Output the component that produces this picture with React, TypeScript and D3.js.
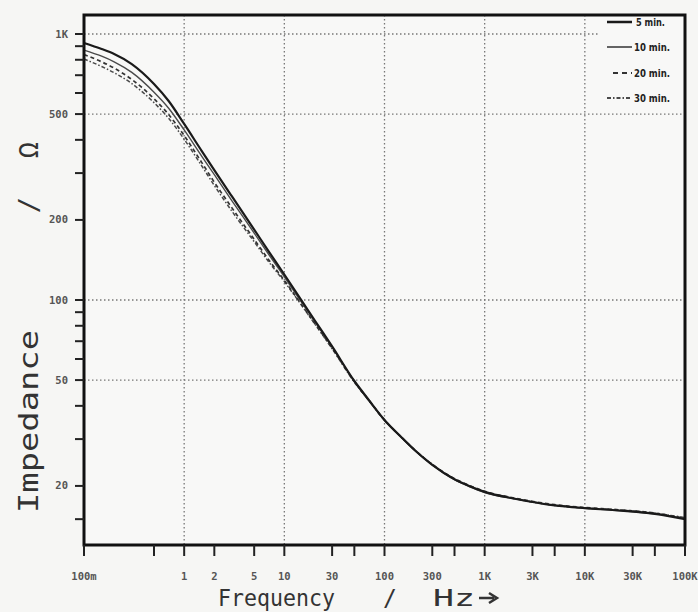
import React from "react";
import * as d3 from "d3";

const freqs = [0.1, 0.15, 0.2, 0.3, 0.5, 0.7, 1, 1.5, 2, 3, 5, 7, 10, 15, 20, 30, 50, 70, 100, 150, 200, 300, 500, 700, 1000, 2000, 5000, 10000, 20000, 50000, 100000];
const z5 = [925, 878, 841, 771, 649, 560, 459, 363, 308, 245, 184, 152, 124.7, 99.1, 84.1, 66.9, 49.6, 42, 35.4, 30.3, 27.3, 24, 21.2, 20.0, 19.0, 17.9, 16.9, 16.5, 16.2, 15.7, 15.0];
const z10 = [870, 825, 786, 717, 604, 526, 436, 347, 296, 236, 178.5, 148, 122.2, 97.6, 83.3, 66.6, 49.5, 41.9, 35.3, 30.2, 27.2, 24.0, 21.1, 19.9, 18.9, 17.9, 16.9, 16.5, 16.2, 15.7, 15.1];
const z20 = [837, 786, 744, 675, 571, 498, 415, 328.5, 277, 222, 169, 141.4, 118.5, 95.6, 82, 65.9, 49.4, 41.9, 35.4, 30.3, 27.3, 24.1, 21.3, 20.1, 19.1, 18.0, 17.0, 16.6, 16.3, 15.8, 15.1];
const z30 = [805, 755, 715, 651, 552, 482, 402, 319, 269.5, 215.6, 165.6, 139, 117.2, 95.1, 81.6, 65.6, 49.1, 41.8, 35.3, 30.3, 27.3, 24.1, 21.2, 20.0, 19.0, 17.9, 16.9, 16.5, 16.3, 15.8, 15.2];

const seriesNames = ["5 min.", "10 min.", "20 min.", "30 min."];

const xTickValues = [0.1, 0.5, 1, 2, 5, 10, 30, 50, 100, 300, 500, 1000, 3000, 5000, 10000, 30000, 50000, 100000];
const xLabelValues = [0.1, 1, 2, 5, 10, 30, 100, 300, 1000, 3000, 10000, 30000, 100000];
const xLabelTexts = ["100m", "1", "2", "5", "10", "30", "100", "300", "1K", "3K", "10K", "30K", "100K"];
const xGridValues = [1, 10, 100, 1000, 10000];

const yTickValues = [15, 20, 30, 40, 50, 60, 70, 80, 90, 100, 200, 300, 400, 500, 600, 700, 800, 900, 1000];
const yLabelValues = [1000, 500, 200, 100, 50, 20];
const yLabelTexts = ["1K", "500", "200", "100", "50", "20"];
const yGridValues = [1000, 500, 100, 50];

const W = 698;
const H = 612;
const L = 84, R = 685, T = 15, B = 545;

const styles = [
  { w: 2.2, c: "#1a1a1a", dash: "" },
  { w: 1.4, c: "#4a4a4a", dash: "" },
  { w: 1.7, c: "#333", dash: "4,3" },
  { w: 1.5, c: "#4a4a4a", dash: "4,2,1.5,2" },
];

export default function App() {
  const x = d3.scaleLog().domain([0.1, 100000]).range([L, R]);
  const y = d3.scaleLog().domain([10, 1000]).range([566, 34]);
  const allSeries = [z5, z10, z20, z30];
  const line = d3
    .line<number>()
    .x((_, i) => x(freqs[i]))
    .y((d) => y(d))
    .curve(d3.curveMonotoneX);

  const mono = "'DejaVu Sans Mono', 'Liberation Mono', monospace";
  const legendY = [22, 47, 73, 98];

  return (
    <svg
      width={W}
      height={H}
      style={{ position: "absolute", left: 0, top: 0, display: "block", background: "#f6f6f4" }}
    >
      <rect x={0} y={0} width={W} height={H} fill="#f6f6f4" />
      <rect x={L} y={T} width={R - L} height={B - T} fill="#f8f8f7" />
      {/* grid */}
      {xGridValues.map((v) => (
        <line key={"gx" + v} x1={x(v)} x2={x(v)} y1={T} y2={B} stroke="#777" strokeWidth={1.3} strokeDasharray="1.5,2.5" />
      ))}
      {yGridValues.map((v) => (
        <line key={"gy" + v} x1={L} x2={v === 1000 ? 598 : R} y1={y(v)} y2={y(v)} stroke="#777" strokeWidth={1.3} strokeDasharray="1.5,2.5" />
      ))}
      {/* curves */}
      {allSeries
        .map((s, i) => ({ s, i }))
        .reverse()
        .map(({ s, i }) => (
          <path
            key={"s" + i}
            d={line(s) || ""}
            fill="none"
            stroke={styles[i].c}
            strokeWidth={styles[i].w}
            strokeDasharray={styles[i].dash}
          />
        ))}
      {/* frame */}
      <rect x={L} y={T} width={R - L} height={B - T} fill="none" stroke="#111" strokeWidth={3} />
      {/* x ticks */}
      {xTickValues.map((v) => (
        <line key={"tx" + v} x1={x(v)} x2={x(v)} y1={B} y2={B + 11} stroke="#222" strokeWidth={2} />
      ))}
      {xLabelValues.map((v, i) => (
        <text key={"lx" + v} x={x(v)} y={580} textAnchor="middle" fontFamily={mono} fontSize={10.5} fontWeight="bold" fill="#555">
          {xLabelTexts[i]}
        </text>
      ))}
      {/* y ticks */}
      {yTickValues.map((v) => (
        <line key={"ty" + v} x1={L - 9} x2={L} y1={y(v)} y2={y(v)} stroke="#222" strokeWidth={2} />
      ))}
      {yLabelValues.map((v, i) => (
        <text key={"ly" + v} x={68} y={y(v) + 3.5} textAnchor="end" fontFamily={mono} fontSize={10.5} fontWeight="bold" fill="#555">
          {yLabelTexts[i]}
        </text>
      ))}
      {/* axis titles */}
      <text x={218} y={606} fontFamily={mono} fontSize={23} fill="#333" textLength={117} lengthAdjust="spacingAndGlyphs">
        Frequency
      </text>
      <text x={390} y={606} textAnchor="middle" fontFamily={mono} fontSize={23} fill="#333">
        /
      </text>
      <text x={433} y={606} fontFamily={mono} fontSize={23} fill="#333" textLength={42} lengthAdjust="spacingAndGlyphs">
        Hz
      </text>
      <path d="M479,598 L494,598 M489,593 L497,598 L489,603" fill="none" stroke="#333" strokeWidth={2.5} />
      <g transform="translate(38,0) rotate(-90)">
        <text x={-513} y={0} fontFamily={mono} fontSize={27} fill="#333" textLength={183} lengthAdjust="spacingAndGlyphs">
          Impedance
        </text>
        <text x={-205} y={0} textAnchor="middle" fontFamily={mono} fontSize={27} fill="#333">
          /
        </text>
        <text x={-150} y={0} textAnchor="middle" fontFamily={mono} fontSize={27} fill="#333">
          Ω
        </text>
      </g>
      {/* legend */}
      <rect x={599} y={17} width={84} height={92} fill="#f8f8f7" />
      {seriesNames.map((n, i) => (
        <g key={"lg" + i}>
          <line
            x1={i === 2 ? 613 : 607}
            x2={632}
            y1={legendY[i]}
            y2={legendY[i]}
            stroke={styles[i].c}
            strokeWidth={styles[i].w + 0.3}
            strokeDasharray={i === 2 ? "5,4" : styles[i].dash}
          />
          <text x={i === 0 ? 636 : 634} y={legendY[i] + 3.5} fontFamily="'DejaVu Sans Condensed', 'DejaVu Sans', sans-serif" fontSize={10} fontWeight="bold" fill="#222" textLength={i === 0 ? 29 : 36} lengthAdjust="spacingAndGlyphs">
            {n}
          </text>
        </g>
      ))}
    </svg>
  );
}
